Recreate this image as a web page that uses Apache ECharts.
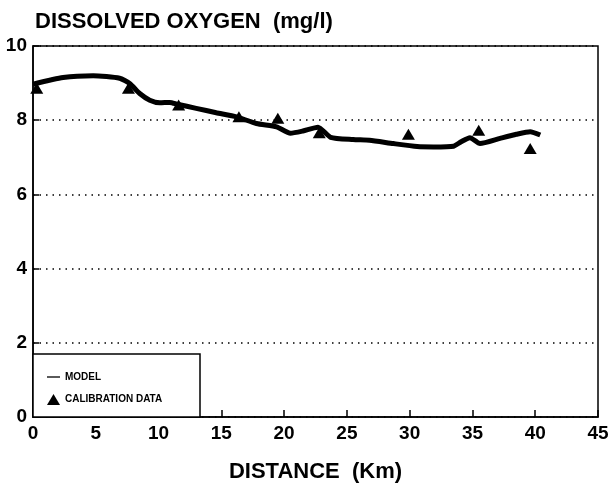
<!DOCTYPE html>
<html>
<head>
<meta charset="utf-8">
<script src="https://cdn.jsdelivr.net/npm/echarts@6/dist/echarts.min.js"></script>
<style>
  html, body { margin: 0; padding: 0; background: #fff; }
  #chartRoot { width: 611px; height: 484px; }
</style>
</head>
<body>
<div id="chartRoot"></div>
<script>
// 模型曲线 (距离 km, 溶解氧 mg/l)
const modelDistance = [0, 2.4, 4.8, 6.9, 7.7, 8.5, 9.3, 10.1, 10.9, 11.5, 13.0, 14.6, 16.2, 17.8, 19.4, 20.5, 21.5, 22.7, 23.7, 25.5, 26.8, 28.7, 30.6, 31.9, 33.5, 34.1, 34.8, 35.6, 37.2, 38.5, 39.6, 40.4];
const modelValue    = [8.97, 9.15, 9.2, 9.13, 8.99, 8.72, 8.54, 8.47, 8.48, 8.43, 8.32, 8.2, 8.09, 7.91, 7.82, 7.65, 7.71, 7.81, 7.54, 7.48, 7.46, 7.37, 7.29, 7.28, 7.3, 7.42, 7.53, 7.37, 7.51, 7.62, 7.69, 7.6];

// 校准数据
const calibDistance = [0.3, 7.6, 11.6, 16.4, 19.5, 22.8, 29.9, 35.5, 39.6];
const calibValue    = [8.86, 8.86, 8.41, 8.09, 8.05, 7.66, 7.62, 7.73, 7.24];

const xTicks = [0, 5, 10, 15, 20, 25, 30, 35, 40, 45];
const yTicks = [0, 2, 4, 6, 8, 10];

const fontFamily = '"Liberation Sans", Arial, sans-serif';

let myChart = echarts.init(document.querySelector("#chartRoot"));
let option = {
    animation: false,
    backgroundColor: "#fff",
    title: {
        text: "DISSOLVED OXYGEN  (mg/l)",
        left: 30,
        top: 6,
        textStyle: { color: "#000", fontSize: 22, fontWeight: "bold", fontFamily }
    },
    grid: {
        left: 33, top: 46, right: 13, bottom: 67,
        show: true,
        borderColor: "#000",
        borderWidth: 1.5,
        containLabel: false,
        outerBoundsMode: "none"
    },
    xAxis: {
        type: "value",
        min: xTicks[0],
        max: xTicks[xTicks.length - 1],
        interval: 5,
        name: "DISTANCE  (Km)",
        nameLocation: "middle",
        nameGap: 44,
        nameTextStyle: { color: "#000", fontSize: 22, fontWeight: "bold", fontFamily },
        axisLine: { show: true, lineStyle: { color: "#000", width: 1.5 } },
        axisTick: { show: true, inside: true, length: 7, lineStyle: { color: "#000", width: 1.5 } },
        axisLabel: { color: "#000", fontSize: 19, fontWeight: "bold", fontFamily, margin: 7 },
        splitLine: { show: false }
    },
    yAxis: {
        type: "value",
        min: yTicks[0],
        max: yTicks[yTicks.length - 1],
        interval: 2,
        axisLine: { show: true, lineStyle: { color: "#000", width: 1.5 } },
        axisTick: { show: true, inside: true, length: 6, lineStyle: { color: "#000", width: 1.5 } },
        axisLabel: { color: "#000", fontSize: 19, fontWeight: "bold", fontFamily, margin: 6 },
        splitLine: { show: true, lineStyle: { color: "#000", width: 1.5, type: [1.5, 5] } }
    },
    legend: {
        orient: "vertical",
        left: 42,
        top: 367,
        z: 10,
        itemGap: 12,
        itemWidth: 13,
        itemHeight: 11,
        textStyle: { color: "#000", fontSize: 10, fontWeight: "bold", fontFamily },
        data: [
            { name: "MODEL", icon: "path://M0,0 L10,0 L10,1 L0,1 Z", itemStyle: { color: "#000" } },
            { name: "CALIBRATION DATA", icon: "triangle", itemStyle: { color: "#000", opacity: 1 } }
        ]
    },
    graphic: [{
        type: "rect",
        z: 1,
        shape: { x: 33, y: 354, width: 167, height: 63 },
        style: { fill: "#fff", stroke: "#000", lineWidth: 1.5 }
    }],
    series: [
        {
            name: "MODEL",
            type: "line",
            data: modelDistance.map((d, i) => [d, modelValue[i]]),
            symbol: "none",
            smooth: 0.2,
            lineStyle: { color: "#000", width: 5 },
            itemStyle: { color: "#000" },
            z: 3
        },
        {
            name: "CALIBRATION DATA",
            type: "scatter",
            data: calibDistance.map((d, i) => [d, calibValue[i]]),
            symbol: "triangle",
            symbolSize: [13, 11],
            itemStyle: { color: "#000", opacity: 1 },
            z: 4
        }
    ]
};
myChart.setOption(option, true);
</script>
</body>
</html>
